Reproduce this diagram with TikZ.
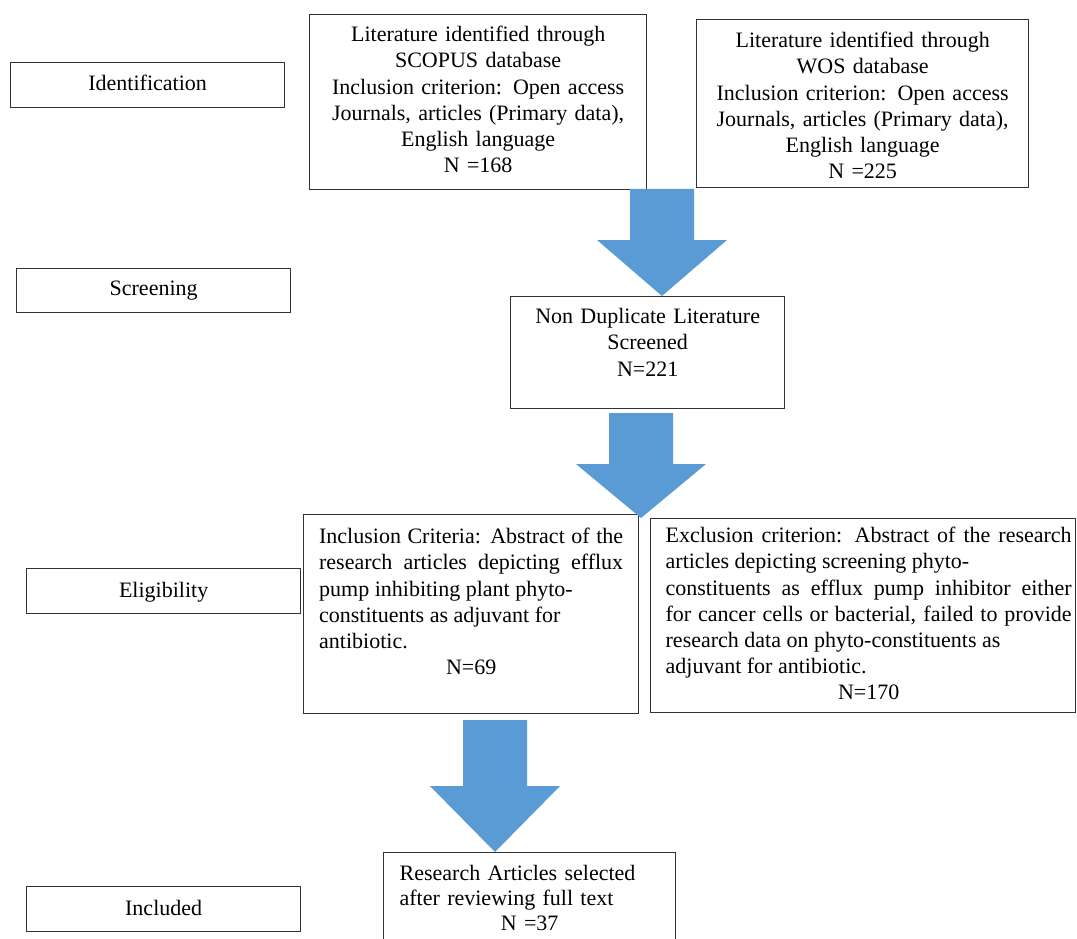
\documentclass[tikz,border=0pt]{standalone}
\usepackage{fontspec}
\setmainfont{Liberation Serif}
\usetikzlibrary{positioning,calc}
\definecolor{arrowblue}{RGB}{91,155,213}

% fat block arrow: start coordinate, tip coordinate, head length
\newcommand{\blockarrow}[3]{%
  \fill[arrowblue] let \p1=(#1), \p2=(#2) in
    (\x1-32pt,\y1) -- (\x1-32pt,\y2+#3) -- (\x1-65pt,\y2+#3) -- (\x2,\y2)
    -- (\x1+65pt,\y2+#3) -- (\x1+32pt,\y2+#3) -- (\x1+32pt,\y1) -- cycle;}

\begin{document}
\begin{tikzpicture}[x=1pt,y=-1pt,
  every node/.style={font=\fontsize{22}{26.2}\selectfont,inner sep=0pt},
  box/.style={draw=black!80,line width=1.3pt,anchor=north west},
  stage/.style={box,text width=274pt,align=center,text height=28pt,text depth=17pt}]
\path[use as bounding box,fill=white] (0,0) rectangle (1077,939);
\clip (0,0) rectangle (1077,939);

% stages
\node[stage] (ident) at (10,62) {Identification};
\node[stage,text height=27pt] (screen) at (16,268) {Screening};
\node[stage,text height=29pt,text depth=16pt] (elig) at (26,568) {Eligibility};
\node[stage,text height=29pt,text depth=16pt] (included) at (26,886) {Included};

% identification
\node[box,text width=321pt,inner xsep=8pt,align=center,text height=27pt,text depth=148pt] (scopus) at (309,14)
  {Literature identified through\\ SCOPUS database\\ Inclusion criterion: Open access\\ Journals, articles (Primary data),\\ English language\\ N =168};
\node[box,text width=316pt,inner xsep=8pt,align=center,text height=28pt,text depth=140pt] (wos) at (696,19)
  {Literature identified through\\ WOS database\\ Inclusion criterion: Open access\\ Journals, articles (Primary data),\\ English language\\ N =225};

% screening
\node[box,text width=258pt,inner xsep=8pt,align=center,text height=27pt,text depth=85pt] (nondup) at (510,296)
  {Non Duplicate Literature\\ Screened\\ N=221};

% eligibility
\node[box,text width=304pt,inner xsep=15.5pt,align=justify,text height=29pt,text depth=170pt] (inclusion) at (303,514)
  {\tolerance=10000 Inclusion Criteria: Abstract of the\linebreak research articles depicting efflux\linebreak
   pump inhibiting plant phyto-\\ constituents as adjuvant for\\ antibiotic.\par\centering N=69\par};
\node[box,text width=417pt,inner xsep=4pt,align=justify,text height=24pt,text depth=170pt] (exclusion) at (650,518)
  {\tolerance=10000\leftskip=11pt Exclusion criterion: Abstract of the research\linebreak
   articles depicting screening phyto-\\ constituents as efflux pump inhibitor either\linebreak
   for cancer cells or bacterial, failed to provide\linebreak research data on phyto-constituents as\\
   adjuvant for antibiotic.\par\centering\leftskip=11pt plus 1fil N=170\par};

% included
\node[box,text width=260pt,inner xsep=16pt,align=left,text height=28pt,text depth=110pt,
  font=\fontsize{22}{25}\selectfont] (research) at (383,852)
  {Research Articles selected\\ after reviewing full text\par\centering N =37\par};

% arrows
\coordinate (a1) at (662,189);
\coordinate (a2) at (641,413);
\coordinate (a3) at (495,720);
\blockarrow{a1}{a1 |- nondup.north}{56pt}
\blockarrow{a2}{a2 |- exclusion.north}{54pt}
\blockarrow{a3}{a3 |- research.north}{66pt}
\end{tikzpicture}
\end{document}
